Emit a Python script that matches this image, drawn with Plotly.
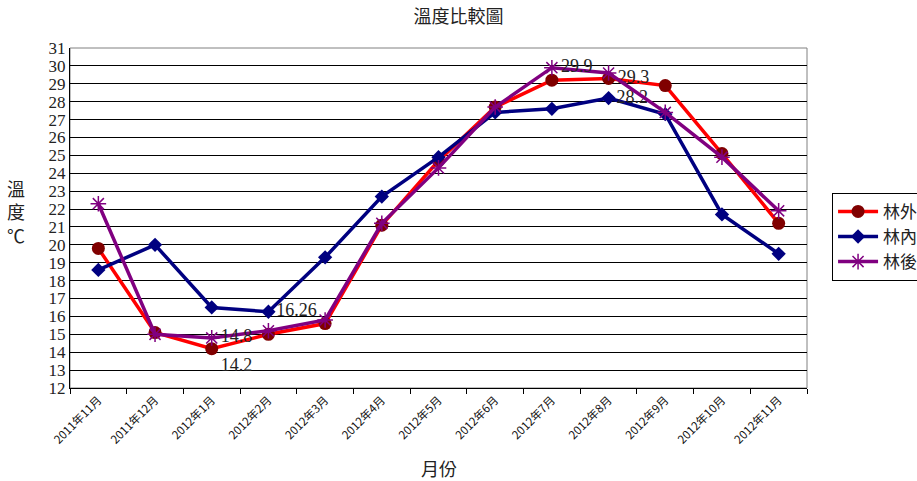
import plotly.graph_objects as go

months = ["2011年11月", "2011年12月", "2012年1月", "2012年2月", "2012年3月", "2012年4月",
          "2012年5月", "2012年6月", "2012年7月", "2012年8月", "2012年9月", "2012年10月", "2012年11月"]
outside = [19.8, 15.1, 14.2, 15.0, 15.6, 21.1, 24.7, 27.7, 29.2, 29.3, 28.9, 25.1, 21.2]
inside = [18.6, 20.0, 16.5, 16.26, 19.3, 22.7, 24.9, 27.4, 27.6, 28.2, 27.3, 21.7, 19.5]
behind = [22.3, 15.0, 14.8, 15.2, 15.8, 21.2, 24.3, 27.7, 29.9, 29.6, 27.4, 24.9, 21.9]

# indices of points that carry a data label
outside_lab = {2: "bottom right", 9: "middle right"}
inside_lab = {3: "middle right", 9: "middle right"}
behind_lab = {2: "middle right", 8: "middle right"}

serif = "Liberation Serif, Times New Roman, serif"
cjk = "Noto Sans CJK TC, sans-serif"


def labels(vals, lab):
    txt = [(f"{v:g}" if i in lab else "") for i, v in enumerate(vals)]
    pos = [lab.get(i, "middle right") for i in range(len(vals))]
    return txt, pos


fig = go.Figure()
specs = [
    ("林外", outside, outside_lab, "#FF0000", dict(symbol="circle", size=13, color="#800000",
                                                   line=dict(width=0))),
    ("林內", inside, inside_lab, "#000080", dict(symbol="diamond", size=11, color="#000080",
                                                  line=dict(width=0))),
    ("林後", behind, behind_lab, "#800080", dict(symbol="asterisk-open", size=13, color="#800080",
                                                  line=dict(width=1.5, color="#800080"))),
]
for name, vals, lab, col, mk in specs:
    txt, pos = labels(vals, lab)
    fig.add_trace(go.Scatter(
        x=months, y=vals, name=name, mode="lines+markers+text",
        line=dict(color=col, width=3.5), marker=mk,
        text=txt, textposition=pos,
        textfont=dict(family=serif, size=18, color="#222222"),
        cliponaxis=False,
    ))

fig.add_shape(type="rect", xref="paper", yref="paper", x0=0, x1=1, y0=0, y1=1,
              line=dict(color="#808080", width=1), layer="below")

fig.update_layout(
    width=917, height=481,
    margin=dict(l=70, r=110, t=48, b=93, autoexpand=False),
    paper_bgcolor="white", plot_bgcolor="white",
    showlegend=True,
    legend=dict(x=1.034, y=0.574, xanchor="left", yanchor="top",
                bordercolor="#000000", borderwidth=1, bgcolor="white",
                font=dict(family=cjk, size=17, color="#222222"),
                itemwidth=40, tracegroupgap=0),
    title=dict(text="溫度比較圖", x=0.5, xref="container", y=1, yref="container",
               yanchor="top", pad=dict(t=10),
               font=dict(family=cjk, size=18, color="#222222")),
    xaxis=dict(type="category", range=[-0.5, 12.5], showgrid=False,
               showline=True, linecolor="black", linewidth=1,
               ticks="outside", tickson="boundaries", ticklen=5, tickcolor="black",
               tickangle=-45, automargin=False,
               tickfont=dict(family=cjk, size=11.5, color="#111111")),
    yaxis=dict(range=[12, 31], dtick=1, showgrid=True, gridcolor="black", gridwidth=1,
               showline=True, linecolor="black", linewidth=1, zeroline=False,
               ticks="", automargin=False,
               tickfont=dict(family=serif, size=17, color="#222222")),
    annotations=[
        dict(text="月份", xref="paper", yref="paper", x=0.5, y=-0.235,
             xanchor="center", yanchor="middle", showarrow=False,
             font=dict(family=cjk, size=18, color="#222222")),
        dict(text="溫<br>度<br>℃", xref="paper", yref="paper", x=-0.058, y=0.52,
             xanchor="right", yanchor="middle", showarrow=False, align="center",
             font=dict(family=cjk, size=18, color="#222222")),
    ],
)

fig.write_html("out.html")
